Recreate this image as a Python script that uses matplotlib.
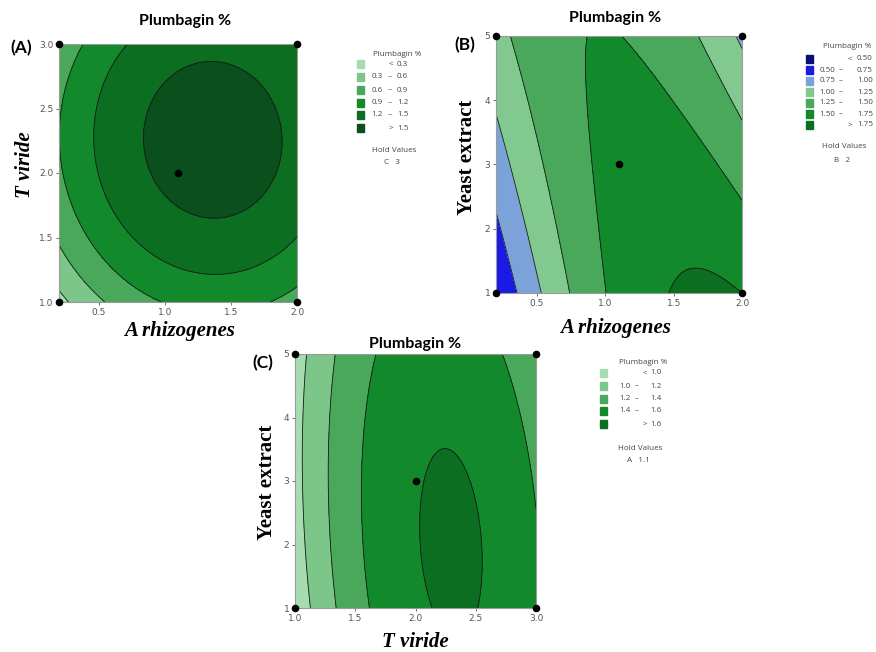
import numpy as np
import matplotlib.pyplot as plt
from matplotlib.patches import Rectangle

W, H = 876, 652

# contour crossings: (x, y, value on the contour)
a_px = [0.85, 1.89, 1.34, 1.39, 0.72, 0.47, 1.38, 2.0, 0.38, 0.2, 0.99, 1.80, 2.0, 0.53, 0.2, 0.27, 0.2]
a_py = [2.26, 2.26, 2.86, 1.65, 3.0, 2.13, 1.21, 1.49, 3.0, 2.26, 1.0, 1.0, 1.13, 1.0, 1.45, 1.0, 1.10]
a_pz = [1.5, 1.5, 1.5, 1.5, 1.2, 1.2, 1.2, 1.2, 0.9, 0.9, 0.9, 0.9, 0.9, 0.6, 0.6, 0.3, 0.3]

b_px = [0.36, 0.54, 0.74, 1.0, 1.46, 2.0, 0.2, 0.2, 0.31, 0.85, 1.12, 1.68, 1.97,
        2.0, 2.0, 2.0, 1.68, 0.847, 0.864, 0.913, 1.39, 1.72, 0.52, 0.39, 1.82]
b_py = [1.0, 1.0, 1.0, 1.0, 1.0, 1.0, 3.84, 2.34, 5.0, 5.0, 5.0, 5.0, 5.0,
        4.8, 3.71, 2.49, 1.43, 4.39, 3.61, 2.57, 4.13, 3.09, 3.09, 2.05, 4.39]
b_pz = [0.75, 1.0, 1.25, 1.5, 1.75, 1.75, 1.0, 0.75, 1.25, 1.5, 1.5, 1.25, 1.0,
        1.0, 1.25, 1.5, 1.75, 1.5, 1.5, 1.5, 1.5, 1.5, 1.25, 1.0, 1.25]

c_px = [1.097, 1.064, 1.13, 1.33, 1.27, 1.34, 1.68, 1.55, 1.62, 2.73, 3.0, 2.87,
        2.25, 2.04, 2.53, 2.10, 2.48]
c_py = [5.0, 3.28, 1.0, 5.0, 3.1, 1.0, 5.0, 2.6, 1.0, 5.0, 2.76, 3.91,
        3.52, 2.13, 2.13, 1.0, 1.0]
c_pz = [1.0, 1.0, 1.0, 1.2, 1.2, 1.2, 1.4, 1.4, 1.4, 1.4, 1.4, 1.4,
        1.6, 1.6, 1.6, 1.6, 1.6]

a_levels = [0.3, 0.6, 0.9, 1.2, 1.5]
b_levels = [0.5, 0.75, 1.0, 1.25, 1.5, 1.75]
c_levels = [1.0, 1.2, 1.4, 1.6]

a_colors = ['#a6ddb0', '#7cc68a', '#4aa85a', '#128a2c', '#0b6e20', '#0a4f1c']
b_colors = ['#0b1070', '#1a1ae6', '#7ba3da', '#82c990', '#4aa85a', '#128a2c', '#0b6e20']
c_colors = ['#a6ddb0', '#7cc68a', '#4aa85a', '#128a2c', '#0b6e20']

a_lo = ['', '0.3', '0.6', '0.9', '1.2', '']
a_hi = ['0.3', '0.6', '0.9', '1.2', '1.5', '1.5']
b_lo = ['', '0.50', '0.75', '1.00', '1.25', '1.50', '']
b_hi = ['0.50', '0.75', '1.00', '1.25', '1.50', '1.75', '1.75']
c_lo = ['', '1.0', '1.2', '1.4', '']
c_hi = ['1.0', '1.2', '1.4', '1.6', '1.6']

# design points (corners + centre point)
a_dx = [0.2, 0.2, 2.0, 2.0, 1.1]
a_dy = [1.0, 3.0, 1.0, 3.0, 2.0]
b_dx = [0.2, 0.2, 2.0, 2.0, 1.1]
b_dy = [1.0, 5.0, 1.0, 5.0, 3.0]
c_dx = [1.0, 1.0, 3.0, 3.0, 2.0]
c_dy = [1.0, 5.0, 1.0, 5.0, 3.0]


def fx(x):
    return x / W


def fy(y):
    return 1 - y / H


def fit_quad(px, py, pz):
    px, py, pz = np.array(px), np.array(py), np.array(pz)
    X = np.column_stack([np.ones_like(px), px, py, px**2, py**2, px * py])
    return np.linalg.lstsq(X, pz, rcond=None)[0]


def panel(rect, xr, yr, pts, levels, colors, dx, dy, xt, xtl, yt, ytl):
    ax = fig.add_axes(rect)
    c = fit_quad(*pts)
    gx, gy = np.meshgrid(np.linspace(xr[0], xr[1], 300), np.linspace(yr[0], yr[1], 300))
    gz = c[0] + c[1]*gx + c[2]*gy + c[3]*gx**2 + c[4]*gy**2 + c[5]*gx*gy
    ax.contourf(gx, gy, gz, levels=[-100] + levels + [100], colors=colors)
    ax.contour(gx, gy, gz, levels=levels, colors='#1a1a1a', linewidths=0.6)
    ax.scatter(dx, dy, s=20, color='black', zorder=5, clip_on=False)
    ax.set_xlim(xr)
    ax.set_ylim(yr)
    ax.set_xticks(xt)
    ax.set_xticklabels(xtl)
    ax.set_yticks(yt)
    ax.set_yticklabels(ytl)
    ax.tick_params(labelsize=6.5, colors='#555555', length=2, width=0.6, pad=2)
    for s in ax.spines.values():
        s.set_color('#9a9a9a')
        s.set_linewidth(0.8)
    return ax


def legend(sq_x, rows, colors, lo, hi, x_lo, x_dash, x_sym, x_hi, title_xy, hold_y, hold_txt):
    kw = dict(fontsize=5.8, color='#444444', family='Open Sans', va='center')
    fig.text(fx(title_xy[0]), fy(title_xy[1]), 'Plumbagin %', ha='center', **kw)
    for i, r in enumerate(rows):
        fig.patches.append(Rectangle((fx(sq_x), fy(r + 3.5)), 7 / W, 7.5 / H,
                                     transform=fig.transFigure, color=colors[i]))
        if i == 0:
            fig.text(fx(x_sym), fy(r), '<', ha='center', **kw)
        elif i == len(rows) - 1:
            fig.text(fx(x_sym), fy(r), '>', ha='center', **kw)
        else:
            fig.text(fx(x_lo), fy(r), lo[i], ha='right', **kw)
            fig.text(fx(x_dash), fy(r), '–', ha='center', **kw)
        fig.text(fx(x_hi), fy(r), hi[i], ha='left', **kw)
    fig.text(fx(title_xy[0] - 3), fy(hold_y), 'Hold Values', ha='center', **kw)
    fig.text(fx(title_xy[0] - 5), fy(hold_y + 13), hold_txt, ha='center', **kw)


fig = plt.figure(figsize=(8.76, 6.52), dpi=100)

panel([fx(59), fy(302), 238 / W, 258 / H], (0.2, 2.0), (1.0, 3.0),
      (a_px, a_py, a_pz), a_levels, a_colors, a_dx, a_dy,
      [0.5, 1.0, 1.5, 2.0], ['0.5', '1.0', '1.5', '2.0'],
      [1.0, 1.5, 2.0, 2.5, 3.0], ['1.0', '1.5', '2.0', '2.5', '3.0'])
panel([fx(496), fy(293), 246 / W, 257 / H], (0.2, 2.0), (1.0, 5.0),
      (b_px, b_py, b_pz), b_levels, b_colors, b_dx, b_dy,
      [0.5, 1.0, 1.5, 2.0], ['0.5', '1.0', '1.5', '2.0'],
      [1, 2, 3, 4, 5], ['1', '2', '3', '4', '5'])
panel([fx(295), fy(608), 241 / W, 254 / H], (1.0, 3.0), (1.0, 5.0),
      (c_px, c_py, c_pz), c_levels, c_colors, c_dx, c_dy,
      [1.0, 1.5, 2.0, 2.5, 3.0], ['1.0', '1.5', '2.0', '2.5', '3.0'],
      [1, 2, 3, 4, 5], ['1', '2', '3', '4', '5'])

title_kw = dict(fontsize=11.5, fontweight='bold', family='Lato', ha='center', va='center')
fig.text(fx(185), fy(21), 'Plumbagin %', **title_kw)
fig.text(fx(615), fy(18), 'Plumbagin %', **title_kw)
fig.text(fx(415), fy(344), 'Plumbagin %', **title_kw)

tag_kw = dict(fontsize=12.5, fontweight='bold', family='Lato', ha='center', va='center')
fig.text(fx(21), fy(48), '(A)', **tag_kw)
fig.text(fx(465), fy(45), '(B)', **tag_kw)
fig.text(fx(263), fy(363), '(C)', **tag_kw)

lab_kw = dict(fontsize=15, fontweight='bold', family='Liberation Serif', ha='center')
fig.text(fx(180), fy(336), 'A rhizogenes', style='italic', va='baseline', **lab_kw)
fig.text(fx(25), fy(165), 'T viride', style='italic', rotation=90, va='center', **lab_kw)
fig.text(fx(616), fy(333), 'A rhizogenes', style='italic', va='baseline', **lab_kw)
fig.text(fx(467), fy(157), 'Yeast extract', rotation=90, va='center', **lab_kw)
fig.text(fx(415), fy(647), 'T viride', style='italic', va='baseline', **lab_kw)
fig.text(fx(267), fy(482), 'Yeast extract', rotation=90, va='center', **lab_kw)

legend(357, [64, 77, 90, 103, 115, 128], a_colors, a_lo, a_hi,
       383, 390, 391, 397, (397, 54), 150, 'C   3')
legend(806, [59, 70, 81, 92, 103, 114, 125], b_colors, b_lo, b_hi,
       835, 841, 850, 857, (847, 46), 147, 'B   2')
legend(600, [373, 386, 399, 411, 424], c_colors, c_lo, c_hi,
       631, 637, 645, 650, (643, 363), 448, 'A   1.1')

fig.savefig('out.png', dpi=100)
